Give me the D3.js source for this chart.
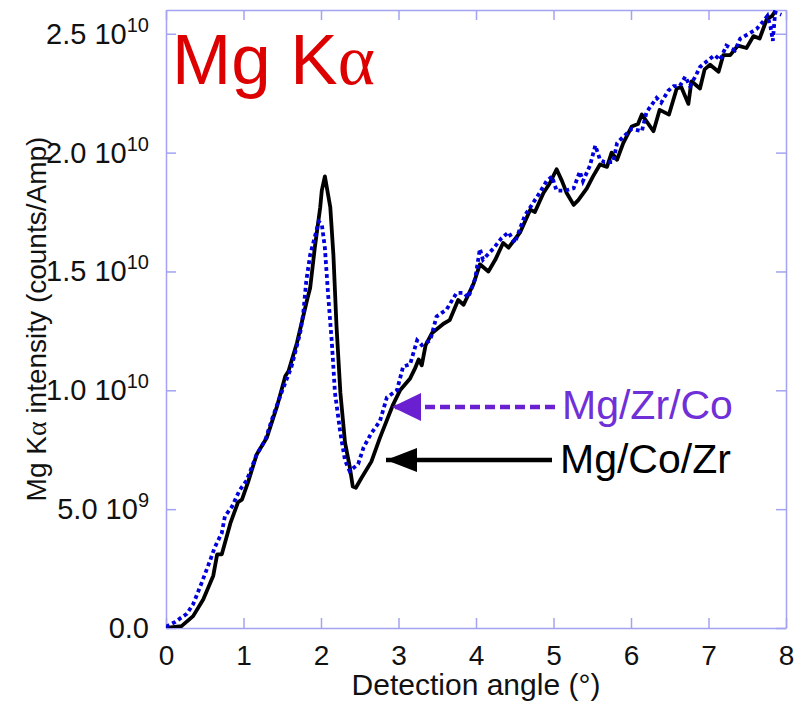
<!DOCTYPE html>
<html>
  <head>
    <meta charset="utf-8" />
    <title>Mg Ka intensity</title>
    <script src="https://cdn.jsdelivr.net/npm/d3@7"></script>
    <style>
      body {
        margin: 0;
        background: #fff;
        font-family: "Liberation Sans", Arial, sans-serif;
      }
      .tick line, .domain {
        stroke: #a3a3f2;
        stroke-width: 1.5;
      }
    </style>
  </head>
  <body>
    <svg id="chart" width="803" height="704"></svg>
  </body>
  <script>
    // angle (deg), intensity (1e9 counts/Amp)
    var mgCoZr = [
      [0, 0], [0.2, 0.08], [0.35, 0.5], [0.48, 1.2], [0.61, 2.2], [0.66, 3.1],
      [0.72, 3.1], [0.83, 4.4], [0.93, 5.3], [0.98, 5.4], [1.06, 6.15], [1.17, 7.3],
      [1.3, 8.0], [1.43, 9.3], [1.54, 10.6], [1.58, 10.8], [1.69, 12.0], [1.82, 13.8],
      [1.86, 14.3], [1.92, 16.0], [1.99, 17.7], [2.01, 18.4], [2.05, 19.0], [2.12, 17.7],
      [2.16, 15.7], [2.2, 12.7], [2.25, 9.9], [2.31, 7.8], [2.37, 6.8], [2.41, 5.95],
      [2.45, 5.9], [2.52, 6.3], [2.65, 7.0], [2.76, 8.0], [2.93, 9.4], [3.02, 10.0],
      [3.15, 10.5], [3.21, 10.9], [3.26, 11.3], [3.3, 11.05], [3.35, 11.9], [3.43, 12.4],
      [3.58, 12.8], [3.66, 12.95], [3.77, 13.8], [3.84, 13.6], [3.97, 14.5], [4.05, 15.3],
      [4.16, 15.0], [4.25, 15.5], [4.35, 16.2], [4.42, 16.0], [4.57, 16.65], [4.7, 17.6],
      [4.76, 17.5], [4.87, 18.3], [4.95, 18.7], [5.04, 19.3], [5.11, 18.8], [5.17, 18.3],
      [5.26, 17.8], [5.32, 18.0], [5.43, 18.5], [5.51, 19.0], [5.6, 19.5], [5.69, 19.4],
      [5.75, 20.0], [5.82, 19.7], [5.9, 20.4], [6.01, 21.1], [6.09, 21.2], [6.14, 21.6],
      [6.29, 20.9], [6.37, 21.8], [6.49, 21.6], [6.59, 22.7], [6.65, 22.75], [6.74, 22.05],
      [6.78, 23.0], [6.89, 22.7], [6.95, 23.5], [7.02, 23.7], [7.13, 23.4], [7.19, 24.1],
      [7.28, 24.1], [7.38, 24.5], [7.49, 24.4], [7.58, 24.9], [7.66, 24.8], [7.75, 25.6],
      [7.82, 25.75], [7.86, 25.95]
    ];

    var mgZrCo = [
      [0, 0.05], [0.12, 0.26], [0.27, 0.6], [0.35, 1.0], [0.46, 1.9], [0.57, 2.85],
      [0.63, 3.4], [0.72, 4.0], [0.76, 4.7], [0.85, 5.1], [0.95, 5.8], [1.04, 6.2],
      [1.17, 7.3], [1.28, 7.9], [1.38, 8.9], [1.49, 9.9], [1.62, 11.0], [1.73, 12.4],
      [1.77, 13.2], [1.81, 14.6], [1.86, 15.7], [1.92, 16.45], [1.97, 17.1], [2.01, 17.0],
      [2.05, 16.0], [2.09, 14.1], [2.14, 12.0], [2.18, 9.9], [2.25, 8.2], [2.31, 7.05],
      [2.37, 6.6], [2.48, 6.9], [2.55, 7.6], [2.65, 8.2], [2.76, 8.7], [2.85, 9.7],
      [2.98, 10.0], [3.06, 11.0], [3.15, 11.1], [3.24, 12.1], [3.3, 11.9], [3.41, 12.1],
      [3.49, 13.1], [3.62, 13.4], [3.75, 14.1], [3.84, 14.1], [3.9, 13.9], [3.99, 14.7],
      [4.05, 15.95], [4.09, 15.5], [4.22, 15.95], [4.33, 16.4], [4.42, 16.65], [4.5, 16.2],
      [4.63, 17.35], [4.8, 18.2], [4.91, 18.8], [4.98, 19.0], [5.04, 18.4], [5.15, 18.4],
      [5.26, 18.5], [5.34, 19.2], [5.38, 18.8], [5.47, 19.45], [5.54, 20.3], [5.6, 19.7],
      [5.66, 19.6], [5.77, 19.6], [5.82, 20.4], [5.88, 20.6], [6.01, 21.0], [6.14, 20.9],
      [6.2, 21.7], [6.33, 22.3], [6.39, 22.1], [6.48, 22.6], [6.55, 22.8], [6.63, 22.8],
      [6.7, 23.2], [6.76, 22.8], [6.83, 23.2], [6.89, 23.6], [7.0, 23.9], [7.08, 24.1],
      [7.15, 23.9], [7.23, 24.5], [7.34, 24.3], [7.41, 24.8], [7.52, 25.0], [7.62, 25.2],
      [7.7, 25.5], [7.76, 25.75], [7.8, 25.3], [7.83, 24.7], [7.86, 25.9], [7.94, 25.8]
    ];

    var xTicks = [0, 1, 2, 3, 4, 5, 6, 7, 8];
    var yTicks = [0, 5, 10, 15, 20, 25]; // in 1e9
    var yTickMantissa = ["0.0", "5.0", "1.0", "1.5", "2.0", "2.5"];
    var yTickExp = ["", "9", "10", "10", "10", "10"];

    var margin = { left: 166, right: 17, top: 10, bottom: 76 };
    var width = 803 - margin.left - margin.right;
    var height = 704 - margin.top - margin.bottom;

    var svg = d3.select("#chart");
    var g = svg
      .append("g")
      .attr("transform", "translate(" + margin.left + "," + margin.top + ")");

    var x = d3.scaleLinear().domain([0, 8]).range([0, width]);
    var y = d3.scaleLinear().domain([0, 26]).range([height, 0]);

    g.append("clipPath")
      .attr("id", "clip")
      .append("rect")
      .attr("width", width)
      .attr("height", height);

    // frame with inward ticks on all four sides
    var xAxis = g
      .append("g")
      .attr("transform", "translate(0," + height + ")")
      .call(d3.axisBottom(x).tickValues(xTicks).tickSize(-10).tickSizeOuter(0).tickPadding(17));
    xAxis.selectAll("text")
      .style("font-family", "Liberation Sans, Arial, sans-serif")
      .style("font-size", "28px")
      .attr("fill", "#111");

    g.append("g")
      .call(d3.axisTop(x).tickValues(xTicks).tickSize(-10).tickSizeOuter(0).tickFormat(""));

    g.append("g")
      .call(d3.axisLeft(y).tickValues(yTicks).tickSize(-10).tickSizeOuter(0).tickFormat(""));
    g.append("g")
      .attr("transform", "translate(" + width + ",0)")
      .call(d3.axisRight(y).tickValues(yTicks).tickSize(-10).tickSizeOuter(0).tickFormat(""));

    // y tick labels like "2.5 10^10"
    var yLabels = g
      .selectAll(".ylab")
      .data(yTicks)
      .enter()
      .append("text")
      .attr("class", "ylab")
      .attr("x", -17)
      .attr("y", function (d) {
        return y(d) + 10;
      })
      .attr("text-anchor", "end")
      .style("font-size", "29px")
      .attr("fill", "#111");
    yLabels.append("tspan").text(function (d, i) {
      return yTickExp[i] ? yTickMantissa[i] + " 10" : yTickMantissa[i];
    });
    yLabels
      .append("tspan")
      .attr("dy", -12)
      .style("font-size", "20px")
      .text(function (d, i) {
        return yTickExp[i];
      });

    var line = d3
      .line()
      .x(function (d) {
        return x(d[0]);
      })
      .y(function (d) {
        return y(d[1]);
      });

    var plot = g.append("g").attr("clip-path", "url(#clip)");

    plot.append("path")
      .datum(mgCoZr)
      .attr("d", line)
      .attr("fill", "none")
      .attr("stroke", "#000")
      .attr("stroke-width", 3.8)
      .attr("stroke-linejoin", "round");

    plot.append("path")
      .datum(mgZrCo)
      .attr("d", line)
      .attr("fill", "none")
      .attr("stroke", "#0000dd")
      .attr("stroke-width", 3.8)
      .attr("stroke-dasharray", "3.8,3.2");

    // axis titles
    svg.append("text")
      .attr("x", margin.left + width / 2)
      .attr("y", 695)
      .attr("text-anchor", "middle")
      .style("font-size", "30px")
      .attr("fill", "#111")
      .text("Detection angle (°)");

    var yTitle = svg
      .append("text")
      .attr("transform", "translate(46," + (margin.top + height / 2) + ") rotate(-90)")
      .attr("text-anchor", "middle")
      .style("font-size", "28px")
      .attr("fill", "#111");
    yTitle.append("tspan").text("Mg K");
    yTitle.append("tspan").style("font-family", "Liberation Serif, serif").text("α");
    yTitle.append("tspan").text(" intensity (counts/Amp)");

    // big title
    var title = svg
      .append("text")
      .attr("x", 172)
      .attr("y", 84)
      .style("font-size", "71px")
      .attr("fill", "#dd0000");
    title.append("tspan").text("Mg K");
    title.append("tspan").style("font-family", "Liberation Serif, serif").text("α");

    // legend arrows (head drawn pointing along the line direction)
    var defs = svg.append("defs");
    function arrowHead(id, color, len, wid) {
      defs.append("marker")
        .attr("id", id)
        .attr("viewBox", "0 0 10 10")
        .attr("refX", 10)
        .attr("refY", 5)
        .attr("markerUnits", "userSpaceOnUse")
        .attr("markerWidth", len)
        .attr("markerHeight", wid)
        .attr("preserveAspectRatio", "none")
        .attr("orient", "auto")
        .append("path")
        .attr("d", "M10,5 L0,0 L0,10 Z")
        .attr("fill", color);
    }
    arrowHead("headPurple", "#6a1fd0", 29, 28);
    arrowHead("headBlack", "#000", 31, 24);

    svg.append("line")
      .attr("x1", 555).attr("y1", 407)
      .attr("x2", 392).attr("y2", 407)
      .attr("stroke", "#6a1fd0")
      .attr("stroke-width", 4.5)
      .attr("stroke-dasharray", "10,5")
      .attr("marker-end", "url(#headPurple)");

    svg.append("line")
      .attr("x1", 552).attr("y1", 460)
      .attr("x2", 386).attr("y2", 460)
      .attr("stroke", "#000")
      .attr("stroke-width", 4.5)
      .attr("marker-end", "url(#headBlack)");

    svg.append("text")
      .attr("x", 562).attr("y", 419)
      .style("font-size", "41px")
      .attr("fill", "#7030d8")
      .text("Mg/Zr/Co");

    svg.append("text")
      .attr("x", 560).attr("y", 473)
      .style("font-size", "41px")
      .attr("fill", "#000")
      .text("Mg/Co/Zr");
  </script>
</html>
